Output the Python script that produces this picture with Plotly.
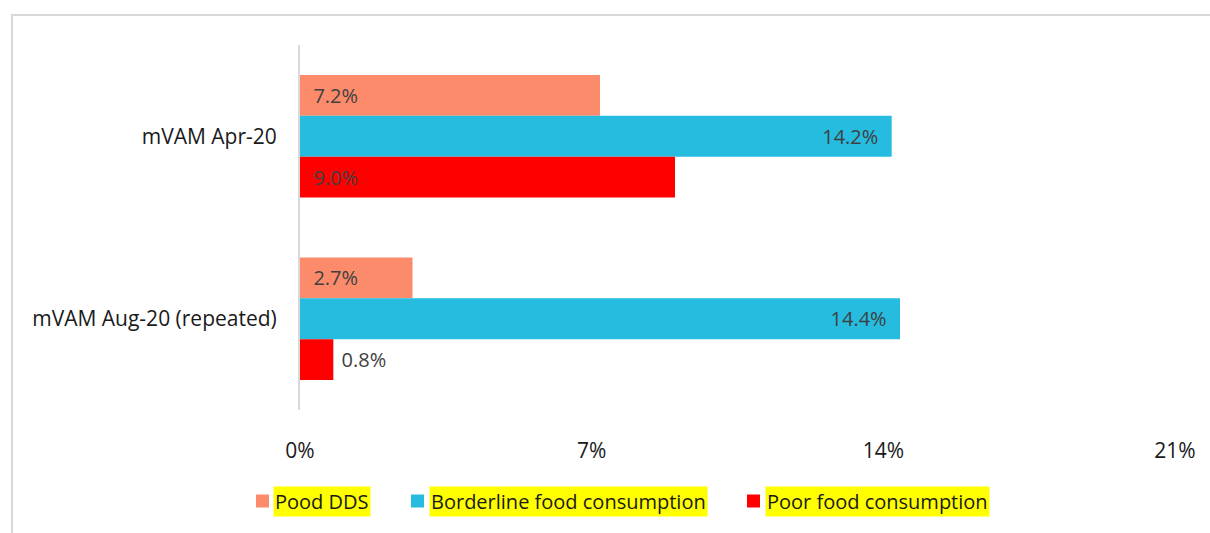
import plotly.graph_objects as go

categories = ["mVAM Apr-20", "mVAM Aug-20 (repeated)"]
series_names = ["Pood DDS", "Borderline food consumption", "Poor food consumption"]
pood_dds = [7.2, 2.7]
borderline = [14.2, 14.4]
poor = [9.0, 0.8]
colors = ["#FC8B6C", "#25BCE0", "#FF0000"]
label_anchor = ["start", "end", "start"]
x_ticks = [0, 7, 14, 21]
x_tick_labels = ["0%", "7%", "14%", "21%"]

FONT = "Open Sans"
W, H = 1210, 533
ML, MR, MT, MB = 300, 35, 45, 123
NB = "\u00a0\u00a0"

fig = go.Figure()
for name, vals, col, anc in zip(series_names, [pood_dds, borderline, poor], colors, label_anchor):
    positions = ["inside" if v > 2 else "outside" for v in vals]
    texts = []
    for v, pos in zip(vals, positions):
        lab = f"{v:.1f}%"
        if pos == "outside":
            texts.append("\u00a0" + lab)
        elif anc == "start":
            texts.append(NB + lab)
        else:
            texts.append(lab + NB)
    fig.add_trace(go.Bar(
        y=categories, x=vals, name=name, orientation="h",
        marker=dict(color=col, line=dict(width=0)),
        text=texts,
        textposition=positions,
        insidetextanchor=anc,
        textangle=0,
        textfont=dict(family=FONT, size=20, color="#404040"),
        outsidetextfont=dict(family=FONT, size=20, color="#404040"),
        insidetextfont=dict(family=FONT, size=20, color="#404040"),
        cliponaxis=False,
        showlegend=False,
    ))

fig.update_layout(
    width=W, height=H,
    margin=dict(l=ML, r=MR, t=MT, b=MB),
    paper_bgcolor="white", plot_bgcolor="white",
    barmode="group", bargap=0.33, bargroupgap=0,
    uniformtext=dict(mode=False),
    xaxis=dict(range=[0, 21], tickvals=x_ticks, ticktext=x_tick_labels,
               showgrid=False, zeroline=False, showline=False,
               ticks="", ticklabelstandoff=26,
               tickfont=dict(family=FONT, size=21, color="#1a1a1a")),
    yaxis=dict(autorange="reversed", showgrid=False, zeroline=False,
               showline=True, linecolor="#d9d9d9", linewidth=2,
               ticks="", ticklabelstandoff=17,
               tickfont=dict(family=FONT, size=21, color="#1a1a1a")),
)

pw = W - ML - MR
ph = H - MT - MB
def px_x(p):
    return (p - ML) / pw
def px_y(p):
    return 1 - (p - MT) / ph

# outer border
fig.add_shape(type="rect", xref="paper", yref="paper",
              x0=px_x(12), x1=px_x(1230), y0=px_y(15), y1=px_y(560),
              line=dict(color="#d9d9d9", width=2), fillcolor="rgba(0,0,0,0)",
              layer="below")

# custom legend with highlighted labels
legend_sq_x = [256, 411, 747]
legend_txt_x = [273, 429, 765]
ly = 501
for name, col, sx, tx in zip(series_names, colors, legend_sq_x, legend_txt_x):
    fig.add_shape(type="rect", xref="paper", yref="paper",
                  x0=px_x(sx), x1=px_x(sx + 13), y0=px_y(ly - 6.5), y1=px_y(ly + 6.5),
                  line=dict(width=0), fillcolor=col)
    fig.add_annotation(xref="paper", yref="paper", x=px_x(tx), y=px_y(ly),
                       xanchor="left", yanchor="middle", showarrow=False,
                       text=name, bgcolor="#FFFF00", borderpad=1,
                       font=dict(family=FONT, size=20, color="#1a1a1a"))

fig.write_html("out.html")
